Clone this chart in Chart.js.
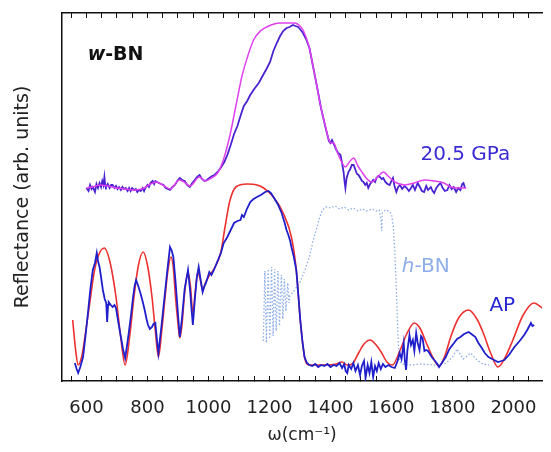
<!DOCTYPE html>
<html>
<head>
<meta charset="utf-8">
<script src="https://cdn.jsdelivr.net/npm/chart.js@4.4.1/dist/chart.umd.min.js"></script>
<style>
  body { margin: 0; background: #fff; }
  canvas { display: block; }
</style>
</head>
<body>
<canvas id="grafik" width="551" height="452"></canvas>
<script>
// sumbu x: bilangan gelombang (cm^-1), sumbu y: reflektansi (satuan bebas)
const xMin = 520
const xMax = 2094
const tickLabels = [600, 800, 1000, 1200, 1400, 1600, 1800, 2000]

// AP - data ukur (biru)
const apDataW = [562, 568, 573, 580, 589, 597, 605, 613, 621, 628, 634, 638, 643, 648, 654, 660, 665, 668, 671, 673, 680, 686, 692, 697, 705, 713, 720, 727, 733, 740, 747, 753, 758, 763, 770, 777, 784, 791, 797, 802, 808, 815, 820, 826, 831, 836, 846, 856, 865, 874, 880, 885, 892, 900, 906, 913, 922, 933, 940, 945, 949, 955, 962, 968, 975, 981, 987, 992, 1003, 1010, 1018, 1030, 1041, 1050, 1062, 1073, 1084, 1095, 1105, 1110, 1116, 1126, 1137, 1148, 1159, 1172, 1186, 1197, 1205, 1213, 1227, 1240, 1250, 1256, 1262, 1265, 1268, 1272, 1280, 1288, 1295, 1301, 1308, 1315, 1323, 1331, 1340, 1350, 1360, 1370, 1380, 1390, 1400, 1410, 1420, 1430, 1438, 1445, 1450, 1455, 1460, 1468, 1475, 1482, 1490, 1497, 1503, 1510, 1515, 1522, 1528, 1534, 1540, 1546, 1552, 1558, 1565, 1572, 1580, 1590, 1600, 1611, 1620, 1627, 1633, 1640, 1644, 1648, 1652, 1659, 1664, 1670, 1675, 1681, 1686, 1692, 1697, 1702, 1708, 1713, 1720, 1724, 1732, 1740, 1748, 1756, 1765, 1778, 1790, 1805, 1815, 1826, 1838, 1853, 1862, 1875, 1885, 1896, 1906, 1918, 1930, 1949, 1960, 1970, 1985, 2003, 2020, 2035, 2045, 2057, 2062, 2068]
const apDataR = [18, 12, 8, 14, 24, 45, 68, 92, 111, 118, 128, 120, 114, 104, 91, 82, 78, 59, 76, 79, 76, 74, 76, 73, 58, 44, 32, 23, 35, 51, 68, 84, 95, 101, 95, 88, 80, 71, 62, 56, 52, 54, 57, 58, 42, 28, 55, 84, 110, 134, 130, 124, 100, 68, 44, 62, 92, 111, 90, 70, 56, 80, 104, 114, 100, 89, 95, 98, 109, 106, 111, 120, 128, 138, 144, 151, 158, 160, 161, 166, 164, 172, 179, 182, 184, 186, 189, 190, 188, 184, 177, 168, 158, 151, 146, 143, 140, 134, 124, 111, 85, 61, 40, 24, 18, 16, 15, 17, 14, 16, 15, 17, 14, 16, 15, 18, 13, 17, 10, 8, 16, 12, 18, 10, 16, 6, 15, 20, 3, 16, 8, 19, 4, 15, 10, 18, 12, 17, 14, 16, 14, 13, 20, 28, 22, 38, 20, 11, 30, 46, 36, 41, 30, 48, 38, 31, 45, 43, 30, 31, 30, 28, 24, 21, 18, 14, 18, 24, 32, 38, 42, 44, 47, 49, 47, 44, 38, 33, 28, 24, 22, 19, 20, 21, 26, 34, 40, 46, 51, 58, 55, 56]

// AP - hasil model (merah)
const apFitW = [555, 565, 573, 585, 598, 611, 625, 640, 659, 678, 697, 712, 727, 742, 756, 770, 786, 800, 815, 826, 836, 847, 858, 867, 877, 885, 892, 900, 906, 913, 922, 933, 941, 949, 957, 965, 973, 981, 990, 1000, 1020, 1040, 1055, 1070, 1090, 1127, 1160, 1181, 1213, 1245, 1272, 1288, 1301, 1315, 1331, 1380, 1420, 1438, 1455, 1471, 1492, 1510, 1530, 1550, 1568, 1585, 1603, 1630, 1650, 1675, 1695, 1713, 1735, 1756, 1775, 1794, 1820, 1853, 1880, 1901, 1925, 1949, 1970, 1998, 2030, 2067, 2094]
const apFitR = [61, 30, 16, 25, 50, 78, 108, 126, 133, 118, 84, 45, 16, 45, 84, 115, 129, 116, 84, 50, 24, 50, 84, 110, 124, 113, 84, 58, 43, 55, 88, 109, 95, 68, 90, 108, 102, 91, 98, 104, 113, 128, 155, 180, 194, 197, 196, 193, 184, 168, 144, 111, 61, 24, 16, 16, 17, 19, 16, 17, 28, 37, 41, 36, 28, 19, 16, 32, 47, 58, 52, 39, 24, 15, 25, 44, 63, 71, 62, 48, 28, 14, 22, 41, 65, 78, 73]

// h-BN (titik-titik biru muda)
const hbnW = [1180, 1185, 1190, 1196, 1201, 1207, 1212, 1217, 1222, 1228, 1233, 1239, 1244, 1249, 1254, 1260, 1264, 1267, 1280, 1299, 1315, 1331, 1343, 1353, 1364, 1374, 1385, 1400, 1415, 1430, 1445, 1460, 1475, 1490, 1505, 1520, 1535, 1550, 1560, 1566, 1568, 1570, 1580, 1592, 1600, 1606, 1611, 1615, 1618, 1622, 1626, 1635, 1660, 1700, 1740, 1780, 1800, 1815, 1835, 1860, 1880, 1900, 1920]
const hbnR = [40, 110, 38, 112, 42, 114, 45, 112, 50, 110, 55, 106, 62, 102, 70, 98, 78, 85, 90, 98, 110, 124, 140, 151, 163, 171, 174, 173, 175, 172, 174, 171, 173, 170, 172, 170, 172, 170, 171, 160, 150, 168, 171, 170, 167, 155, 128, 100, 75, 40, 20, 17, 16, 17, 16, 18, 24, 32, 22, 28, 21, 17, 16]

// 20.5 GPa - data ukur (biru ungu)
const gpaDataW = [600, 607, 612, 617, 621, 628, 633, 638, 643, 648, 652, 656, 659, 662, 664, 670, 676, 681, 686, 692, 697, 702, 707, 713, 718, 723, 729, 735, 740, 745, 750, 756, 762, 767, 772, 778, 784, 789, 793, 800, 805, 810, 817, 822, 826, 831, 838, 845, 853, 860, 867, 874, 882, 890, 898, 906, 914, 922, 930, 939, 947, 955, 963, 971, 979, 987, 995, 1003, 1012, 1020, 1030, 1040, 1052, 1062, 1073, 1084, 1095, 1105, 1116, 1127, 1137, 1150, 1165, 1181, 1192, 1202, 1213, 1224, 1235, 1245, 1256, 1266, 1277, 1285, 1294, 1300, 1310, 1320, 1331, 1342, 1353, 1369, 1385, 1395, 1400, 1405, 1411, 1418, 1425, 1433, 1438, 1443, 1446, 1449, 1453, 1459, 1465, 1470, 1476, 1482, 1487, 1492, 1498, 1503, 1508, 1514, 1519, 1524, 1530, 1535, 1540, 1546, 1551, 1557, 1562, 1568, 1573, 1580, 1587, 1594, 1600, 1605, 1610, 1616, 1622, 1628, 1635, 1643, 1650, 1657, 1664, 1670, 1677, 1686, 1693, 1700, 1707, 1714, 1720, 1729, 1735, 1740, 1747, 1754, 1761, 1768, 1775, 1783, 1790, 1797, 1804, 1812, 1819, 1826, 1832, 1836, 1841]
const gpaDataR = [193, 190, 196, 192, 194, 189, 197, 193, 198, 194, 200, 196, 204, 195, 194, 197, 193, 196, 196, 193, 195, 192, 194, 191, 194, 192, 193, 190, 193, 190, 193, 191, 192, 189, 191, 190, 193, 190, 193, 196, 194, 198, 200, 197, 200, 199, 198, 197, 196, 193, 192, 191, 194, 196, 200, 203, 201, 200, 196, 194, 198, 201, 204, 206, 202, 200, 201, 203, 205, 206, 209, 213, 219, 226, 236, 247, 255, 265, 275, 280, 286, 292, 298, 307, 313, 319, 330, 338, 345, 350, 353, 354, 356, 355, 354, 352, 348, 342, 333, 316, 299, 273, 252, 240, 238, 241, 237, 232, 228, 226, 218, 209, 200, 193, 203, 209, 212, 216, 216, 211, 207, 206, 203, 200, 199, 196, 198, 193, 197, 199, 201, 199, 203, 205, 204, 202, 203, 199, 197, 196, 200, 203, 195, 189, 194, 196, 192, 195, 193, 190, 193, 196, 191, 198, 194, 190, 189, 195, 191, 194, 190, 188, 193, 196, 198, 193, 190, 191, 196, 192, 194, 189, 193, 191, 197, 198, 193]

// 20.5 GPa - hasil model (magenta)
const gpaFitW = [600, 620, 645, 670, 700, 730, 760, 790, 810, 830, 850, 875, 905, 925, 940, 970, 990, 1010, 1030, 1050, 1070, 1090, 1110, 1127, 1148, 1170, 1191, 1215, 1234, 1260, 1283, 1300, 1310, 1321, 1331, 1342, 1353, 1369, 1385, 1395, 1403, 1411, 1422, 1435, 1449, 1462, 1476, 1490, 1503, 1520, 1535, 1555, 1573, 1592, 1611, 1643, 1675, 1707, 1740, 1772, 1794, 1820, 1845]
const gpaFitR = [193, 194, 196, 195, 193, 192, 191, 193, 197, 199, 196, 192, 201, 198, 195, 204, 200, 203, 208, 222, 245, 275, 305, 323, 341, 350, 354, 357, 358, 358, 358, 355, 351, 343, 333, 316, 299, 273, 253, 241, 238, 238, 229, 220, 214, 219, 223, 215, 209, 202, 199, 204, 209, 204, 199, 196, 198, 201, 200, 198, 194, 193, 193]

const gabung = (w, r) => w.map((v, i) => ({ x: v, y: r[i] }))

const fontNama = "'DejaVu Sans', sans-serif"

// label teks di dalam grafik
const labelTeks = {
    id: 'labelTeks',
    afterDatasetsDraw(chart) {
        const c = chart.ctx
        const sx = chart.scales.x
        const sy = chart.scales.y
        const tulis = (bagian, w, r) => {
            let x = sx.getPixelForValue(w)
            const y = sy.getPixelForValue(r)
            c.save()
            c.textBaseline = 'middle'
            c.textAlign = 'left'
            bagian.forEach(b => {
                c.font = b.font
                c.fillStyle = b.warna
                c.fillText(b.teks, x, y)
                x += c.measureText(b.teks).width
            })
            c.restore()
        }
        tulis([
            { teks: 'w', font: `italic bold 19px ${fontNama}`, warna: '#111' },
            { teks: '-BN', font: `bold 19px ${fontNama}`, warna: '#111' }
        ], 604, 326)
        tulis([{ teks: '20.5 GPa', font: `20px ${fontNama}`, warna: '#3a2bd4' }], 1695, 226)
        tulis([
            { teks: 'h', font: `italic 20px ${fontNama}`, warna: '#8eaee8' },
            { teks: '-BN', font: `20px ${fontNama}`, warna: '#8eaee8' }
        ], 1634, 114)
        tulis([{ teks: 'AP', font: `20px ${fontNama}`, warna: '#2727d4' }], 1921, 75)
    }
}

const ctx = document.getElementById('grafik').getContext('2d')
const grafik = new Chart(ctx, {
    type: 'line',
    data: {
        datasets: [{
            label: 'h-BN',
            data: gabung(hbnW, hbnR),
            borderColor: '#8eaee8',
            borderWidth: 1.3,
            borderDash: [1.5, 2],
            pointRadius: 0,
            tension: 0,
            order: 5
        }, {
            label: 'AP model',
            data: gabung(apFitW, apFitR),
            borderColor: '#ee3030',
            borderWidth: 1.6,
            pointRadius: 0,
            cubicInterpolationMode: 'monotone',
            order: 4
        }, {
            label: 'AP data',
            data: gabung(apDataW, apDataR),
            borderColor: '#1f1fcc',
            borderWidth: 1.8,
            pointRadius: 0,
            tension: 0,
            order: 3
        }, {
            label: '20.5 GPa data',
            data: gabung(gpaDataW, gpaDataR),
            borderColor: '#4a22d0',
            borderWidth: 1.8,
            pointRadius: 0,
            tension: 0,
            order: 2
        }, {
            label: '20.5 GPa model',
            data: gabung(gpaFitW, gpaFitR),
            borderColor: '#e040ee',
            borderWidth: 1.5,
            pointRadius: 0,
            cubicInterpolationMode: 'monotone',
            order: 1
        }]
    },
    options: {
        responsive: false,
        animation: false,
        layout: { padding: { left: 8, right: 0, top: 13, bottom: 2 } },
        plugins: {
            legend: { display: false },
            tooltip: { enabled: false }
        },
        scales: {
            x: {
                type: 'linear',
                position: 'bottom',
                min: xMin,
                max: xMax,
                ticks: {
                    stepSize: 50,
                    includeBounds: false,
                    autoSkip: false,
                    maxRotation: 0,
                    padding: 22,
                    color: '#222',
                    font: { family: fontNama, size: 18 },
                    callback: v => tickLabels.includes(v) ? String(v) : ''
                },
                grid: { drawOnChartArea: false, drawTicks: true, tickLength: -5, tickColor: '#111', tickWidth: 1 },
                border: { display: true, color: '#111', width: 1.5 },
                title: {
                    display: true,
                    text: 'ω(cm⁻¹)',
                    color: '#222',
                    font: { family: fontNama, size: 17 },
                    padding: { top: 8, bottom: 4 }
                },
                afterFit: s => { s.height = 69 }
            },
            xAtas: {
                type: 'linear',
                axis: 'x',
                position: 'top',
                min: xMin,
                max: xMax,
                ticks: { display: false, stepSize: 50, includeBounds: false, autoSkip: false },
                grid: { drawOnChartArea: false, drawTicks: true, tickLength: -5, tickColor: '#111', tickWidth: 1 },
                border: { display: true, color: '#111', width: 1.5 },
                afterFit: s => { s.height = 0 }
            },
            y: {
                type: 'linear',
                min: 0,
                max: 368,
                ticks: { display: false },
                grid: { display: true, drawOnChartArea: false, drawTicks: false },
                border: { display: true, color: '#111', width: 1.5 },
                title: {
                    display: true,
                    text: 'Reflectance (arb. units)',
                    color: '#222',
                    font: { family: fontNama, size: 19 },
                    padding: { top: 4, bottom: 4 }
                },
                afterFit: s => { s.width = 54 }
            }
        }
    },
    plugins: [labelTeks]
})
</script>
</body>
</html>
